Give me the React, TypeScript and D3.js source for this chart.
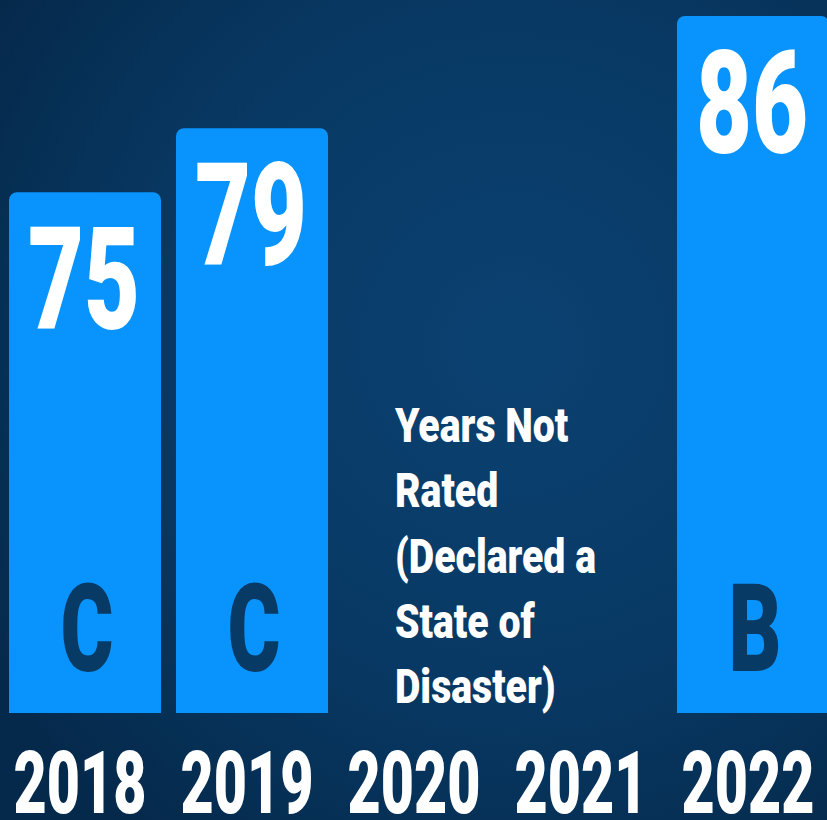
import React from "react";
import * as d3 from "d3";

const years = ["2018", "2019", "2020", "2021", "2022"];
const scores: (number | null)[] = [75, 79, null, null, 86];
const grades: (string | null)[] = ["C", "C", null, null, "B"];
const noteLines = ["Years Not", "Rated", "(Declared a", "State of", "Disaster)"];

const W = 827;
const H = 820;
const baseY = 713;
const FONT = "Roboto, 'Liberation Sans', sans-serif";

export default function App() {
  // band layout: 152px bars on a 167px step
  const x = d3
    .scaleBand<string>()
    .domain(years)
    .range([9, 829])
    .paddingInner(15 / 167)
    .paddingOuter(0);

  // linear fit for bar heights (the infographic is not exactly to scale)
  const y = d3.scaleLinear().domain([42.5, 87]).range([baseY, 0]);

  const bw = x.bandwidth();
  const r = 8;

  const barPath = (x0: number, y0: number, w: number, h: number) => {
    const p = d3.path();
    p.moveTo(x0, y0 + h);
    p.lineTo(x0, y0 + r);
    p.arcTo(x0, y0, x0 + r, y0, r);
    p.lineTo(x0 + w - r, y0);
    p.arcTo(x0 + w, y0, x0 + w, y0 + r, r);
    p.lineTo(x0 + w, y0 + h);
    p.closePath();
    return p.toString();
  };

  const noteX = (x("2020") ?? 0) + 52;

  return (
    <svg
      width={W}
      height={H}
      style={{ position: "absolute", left: 0, top: 0, display: "block" }}
    >
      <defs>
        <radialGradient id="bg" cx="62%" cy="42%" r="75%">
          <stop offset="0%" stopColor="#0b4171" />
          <stop offset="55%" stopColor="#083964" />
          <stop offset="100%" stopColor="#05294b" />
        </radialGradient>
      </defs>
      <rect width={W} height={H} fill="url(#bg)" />

      {years.map((yr, i) => {
        const v = scores[i];
        if (v === null) return null;
        const x0 = x(yr) ?? 0;
        const top = y(v);
        return (
          <g key={yr}>
            <path d={barPath(x0, top, bw, baseY - top)} fill="#0994fd" />
            <text
              x={x0 + bw / 2 - 1}
              y={top + 137}
              textAnchor="middle"
              fontFamily={FONT}
              fontWeight={900}
              fontSize={143}
              fill="#ffffff"
              textLength={112}
              lengthAdjust="spacingAndGlyphs"
            >
              {v}
            </text>
            <text
              x={x0 + bw / 2 + 2}
              y={671}
              textAnchor="middle"
              fontFamily={FONT}
              fontWeight={900}
              fontSize={122}
              fill="#083a66"
              textLength={53}
              lengthAdjust="spacingAndGlyphs"
            >
              {grades[i]}
            </text>
          </g>
        );
      })}

      <g transform={`translate(${noteX},0)`}>
        {noteLines.map((line, i) => (
          <text
            key={line}
            transform={`translate(0,${442 + i * 65.3}) scale(0.8,1)`}
            fontFamily={FONT}
            fontWeight={900}
            fontSize={49}
            fill="#ffffff"
          >
            {line}
          </text>
        ))}
      </g>

      {years.map((yr) => (
        <text
          key={"yr" + yr}
          x={(x(yr) ?? 0) + bw / 2 - 5}
          y={813}
          textAnchor="middle"
          fontFamily={FONT}
          fontWeight={900}
          fontSize={87}
          fill="#ffffff"
          textLength={133}
          lengthAdjust="spacingAndGlyphs"
        >
          {yr}
        </text>
      ))}
    </svg>
  );
}
